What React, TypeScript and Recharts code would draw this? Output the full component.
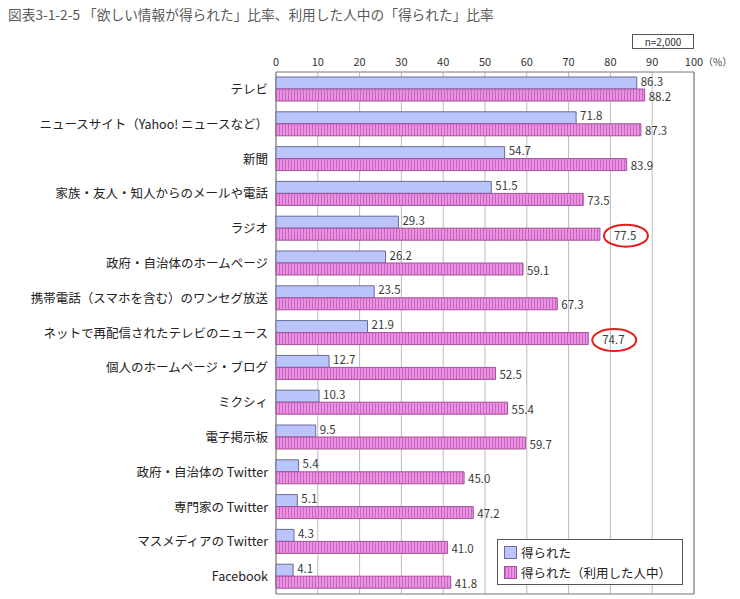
import React from 'react';
import { BarChart, Bar, XAxis, YAxis, CartesianGrid, LabelList, ReferenceArea } from 'recharts';

// categories (top to bottom)
const CATEGORIES = [
  'テレビ',
  'ニュースサイト（Yahoo! ニュースなど）',
  '新聞',
  '家族・友人・知人からのメールや電話',
  'ラジオ',
  '政府・自治体のホームページ',
  '携帯電話（スマホを含む）のワンセグ放送',
  'ネットで再配信されたテレビのニュース',
  '個人のホームページ・ブログ',
  'ミクシィ',
  '電子掲示板',
  '政府・自治体の Twitter',
  '専門家の Twitter',
  'マスメディアの Twitter',
  'Facebook',
];

// 「欲しい情報が得られた」比率
const OBTAINED = [86.3, 71.8, 54.7, 51.5, 29.3, 26.2, 23.5, 21.9, 12.7, 10.3, 9.5, 5.4, 5.1, 4.3, 4.1];
// 利用した人中の「得られた」比率
const OBTAINED_USERS = [88.2, 87.3, 83.9, 73.5, 77.5, 59.1, 67.3, 74.7, 52.5, 55.4, 59.7, 45.0, 47.2, 41.0, 41.8];
// values circled in red
const CIRCLED = ['ラジオ', 'ネットで再配信されたテレビのニュース'];

const X_TICKS = [0, 10, 20, 30, 40, 50, 60, 70, 80, 90, 100];

const data = CATEGORIES.map((name, i) => ({
  name,
  obtained: OBTAINED[i],
  users: OBTAINED_USERS[i],
}));

const FONT = '"Noto Sans CJK JP", "Noto Sans", sans-serif';

const XTick = (props: any) => {
  const { x, y, payload } = props;
  return (
    <g>
      <text x={x} y={y} textAnchor="middle" fontSize={11} fill="#333" fontFamily={FONT}>
        {payload.value}
      </text>
      {payload.value === 100 && (
        <text x={x + 9} y={y} textAnchor="start" fontSize={10} fill="#444" fontFamily={FONT}>
          （%）
        </text>
      )}
    </g>
  );
};

const YTick = (props: any) => {
  const { x, y, payload } = props;
  return (
    <text x={x} y={y} dy={4.5} textAnchor="end" fontSize={12.5} fill="#222" fontFamily={FONT}>
      {payload.value}
    </text>
  );
};

const obtainedLabel = (props: any) => {
  const { x, y, width, height, value } = props;
  return (
    <text x={x + width + 4} y={y + height / 2 + 2.5} fontSize={11.5} fill="#3a3a3a" fontFamily={FONT}>
      {Number(value).toFixed(1)}
    </text>
  );
};

const usersLabel = (props: any) => {
  const { x, y, width, height, value, index } = props;
  const circled = CIRCLED.includes(CATEGORIES[index]);
  const end = x + width;
  const cy = y + height / 2;
  return (
    <g>
      <text x={end + (circled ? 14 : 4)} y={cy + 5.5} fontSize={11.5} fill="#3a3a3a" fontFamily={FONT}>
        {Number(value).toFixed(1)}
      </text>
      {circled && (
        <ellipse cx={end + 26} cy={cy + 1.5} rx={22} ry={11} fill="none" stroke="#e0201c" strokeWidth={2} />
      )}
    </g>
  );
};

export default function App() {
  return (
    <div style={{ position: 'absolute', left: 0, top: 0, width: 740, height: 599, background: '#fff', fontFamily: FONT }}>
      <div style={{ position: 'absolute', left: 8, top: 4, fontSize: 13.7, color: '#5a5a5a', whiteSpace: 'nowrap' }}>
        図表3-1-2-5 「欲しい情報が得られた」比率、利用した人中の「得られた」比率
      </div>
      <div
        style={{
          position: 'absolute', left: 632, top: 34, width: 60, height: 13, border: '1px solid #555',
          fontSize: 10, color: '#333', lineHeight: '13px', textAlign: 'center',
        }}
      >
        n=2,000
      </div>
      <BarChart
        width={740}
        height={599}
        data={data}
        layout="vertical"
        margin={{ top: 52, right: 46, bottom: 5, left: 0 }}
        barCategoryGap={5}
        barGap={0}
      >
        <defs>
          <pattern id="stripe" width={3} height={4} patternUnits="userSpaceOnUse">
            <rect width={3} height={4} fill="#ec92e2" />
            <rect width={1} height={4} fill="#c865c0" />
          </pattern>
        </defs>
        <CartesianGrid horizontal={false} stroke="#bbb" />
        <XAxis
          type="number"
          orientation="top"
          domain={[0, 100]}
          ticks={X_TICKS}
          height={20}
          tickSize={0}
          tickMargin={6}
          axisLine={false}
          tickLine={false}
          tick={<XTick />}
          interval={0}
        />
        <YAxis
          type="category"
          dataKey="name"
          width={276}
          tickSize={0}
          tickMargin={8}
          axisLine={false}
          tickLine={false}
          tick={<YTick />}
          interval={0}
        />
        <Bar dataKey="obtained" fill="#bac6fb" stroke="#6a6a98" strokeWidth={1} isAnimationActive={false}>
          <LabelList dataKey="obtained" content={obtainedLabel} />
        </Bar>
        <Bar dataKey="users" fill="url(#stripe)" stroke="#a2509c" strokeWidth={1} isAnimationActive={false}>
          <LabelList dataKey="users" content={usersLabel} />
        </Bar>
        <ReferenceArea x1={0} x2={100} fill="none" stroke="#777" strokeWidth={1} ifOverflow="visible" />
      </BarChart>
      <div
        style={{
          position: 'absolute', left: 497, top: 539, width: 184, height: 44, background: '#fff',
          border: '1px solid #555', fontSize: 12.5, color: '#222', whiteSpace: 'nowrap',
        }}
      >
        <div style={{ display: 'flex', alignItems: 'center', marginTop: 3, marginLeft: 6, height: 18 }}>
          <span style={{ width: 13, height: 13, background: '#bac6fb', border: '1px solid #6a6a98', boxSizing: 'border-box', marginRight: 4 }} />
          得られた
        </div>
        <div style={{ display: 'flex', alignItems: 'center', marginTop: 2, marginLeft: 6, height: 18 }}>
          <span
            style={{
              width: 13, height: 13, border: '1px solid #a2509c', boxSizing: 'border-box', marginRight: 4,
              background: 'repeating-linear-gradient(90deg, #c865c0 0px, #c865c0 1px, #ec92e2 1px, #ec92e2 3px)',
            }}
          />
          得られた（利用した人中）
        </div>
      </div>
    </div>
  );
}
